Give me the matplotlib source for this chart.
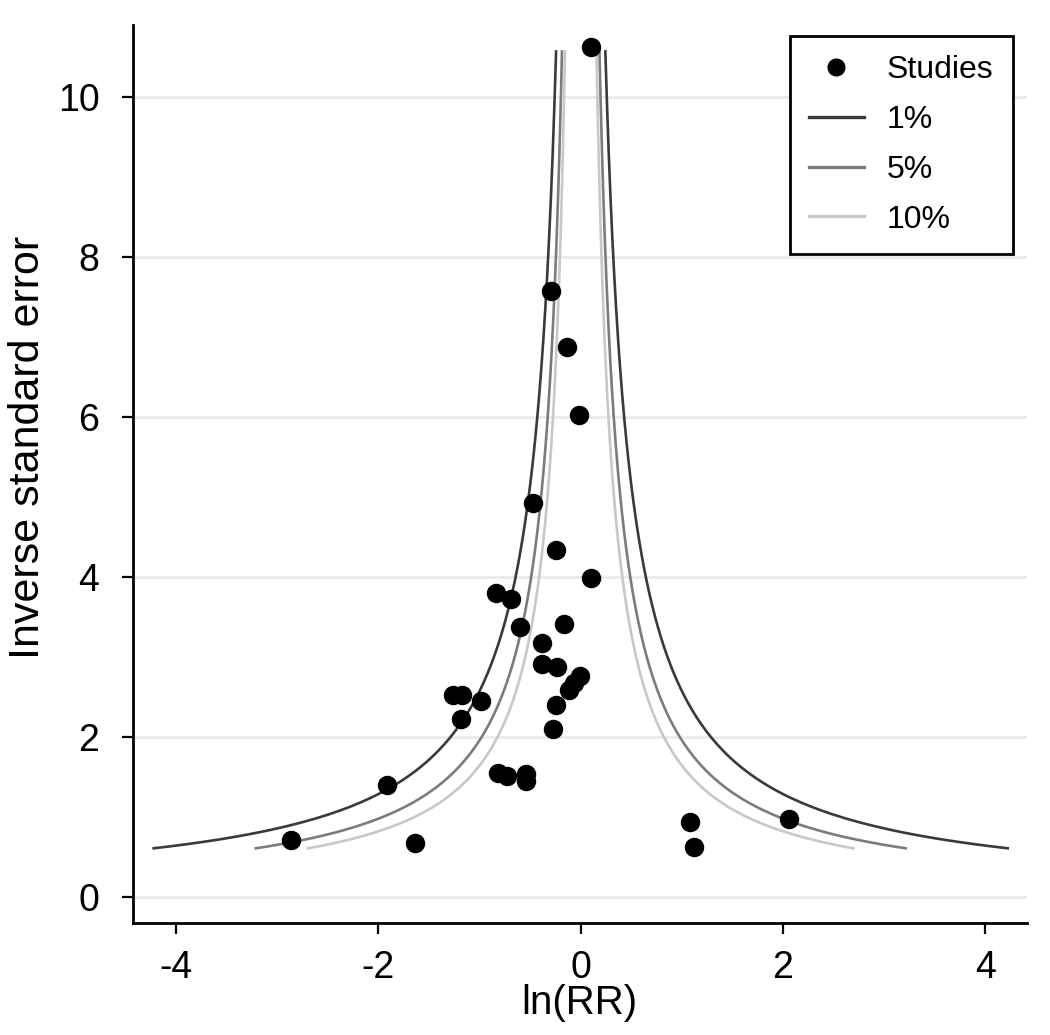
import numpy as np
import matplotlib
matplotlib.use("Agg")
import matplotlib.pyplot as plt
from matplotlib.lines import Line2D

plt.rcParams['font.family'] = ['Liberation Sans', 'DejaVu Sans']

# Study estimates: ln(RR) and inverse standard error
ln_rr = [0.10, -0.29, -0.14, -0.02, -0.47, -0.24, 0.10, -0.84, -0.69, -0.60,
         -0.17, -0.38, -0.38, -0.23, -0.01, -0.07, -0.12, -0.24, -0.27, -1.26,
         -1.17, -0.99, -1.18, -1.92, -0.82, -0.73, -0.54, -0.54, -1.64, -2.86,
         1.08, 1.12, 2.06]
inv_se = [10.63, 7.57, 6.88, 6.03, 4.92, 4.34, 3.99, 3.80, 3.72, 3.38,
          3.41, 3.18, 2.91, 2.87, 2.76, 2.67, 2.59, 2.40, 2.10, 2.52,
          2.52, 2.45, 2.22, 1.40, 1.55, 1.51, 1.54, 1.45, 0.68, 0.71,
          0.94, 0.63, 0.98]

# significance contours (two-sided critical z values)
contour_labels = ['1%', '5%', '10%']
contour_z = [2.576, 1.960, 1.645]
contour_colors = ['#3a3a3a', '#7c7c7c', '#c8c8c8']
ise_range = (0.61, 10.57)

x_ticks = [-4, -2, 0, 2, 4]
y_ticks = [0, 2, 4, 6, 8, 10]

fig = plt.figure(figsize=(10.5, 10.35), dpi=100)
ax = fig.add_axes([0.1264, 0.1085, 0.8514, 0.8673])

ise = np.linspace(ise_range[0], ise_range[1], 400)
handles = []
for lab, z, col in zip(contour_labels, contour_z, contour_colors):
    ax.plot(-z / ise, ise, color=col, lw=1.9, zorder=2)
    ax.plot(z / ise, ise, color=col, lw=1.9, zorder=2)
    handles.append(Line2D([], [], color=col, lw=2.4, label=lab))

ax.plot(ln_rr, inv_se, 'o', color='black', ms=13, zorder=3, clip_on=False)
handles.insert(0, Line2D([], [], marker='o', ls='none', color='black', ms=12,
                         label='Studies'))

ax.set_xlim(-4.43, 4.41)
ax.set_ylim(-0.32, 10.90)
ax.set_xticks(x_ticks)
ax.set_yticks(y_ticks)
ax.set_xticklabels([str(v) for v in x_ticks])
ax.set_yticklabels([str(v) for v in y_ticks])

ax.yaxis.grid(True, color='#e3ecec', lw=1.8, zorder=0)
ax.set_axisbelow(True)

for s in ['top', 'right']:
    ax.spines[s].set_visible(False)
for s in ['left', 'bottom']:
    ax.spines[s].set_linewidth(2.0)
    ax.spines[s].set_color('black')

ax.tick_params(axis='both', direction='out', length=8, width=1.6,
               labelsize=27)
ax.tick_params(axis='y', pad=16)
ax.tick_params(axis='x', pad=12)

ax.set_xlabel('ln(RR)', fontsize=29, labelpad=-2)
ax.set_ylabel('Inverse standard error', fontsize=31)
ax.yaxis.set_label_coords(-0.095, 0.53)

leg = ax.legend(handles=handles, loc='upper right',
                bbox_to_anchor=(0.9843, 0.9877), borderaxespad=0,
                fontsize=23, handlelength=1.72, handletextpad=0.72,
                labelspacing=0.62, borderpad=0.6,
                fancybox=False, framealpha=1, edgecolor='black')
leg.get_frame().set_linewidth(2.0)

fig.savefig('out.png', dpi=100)
